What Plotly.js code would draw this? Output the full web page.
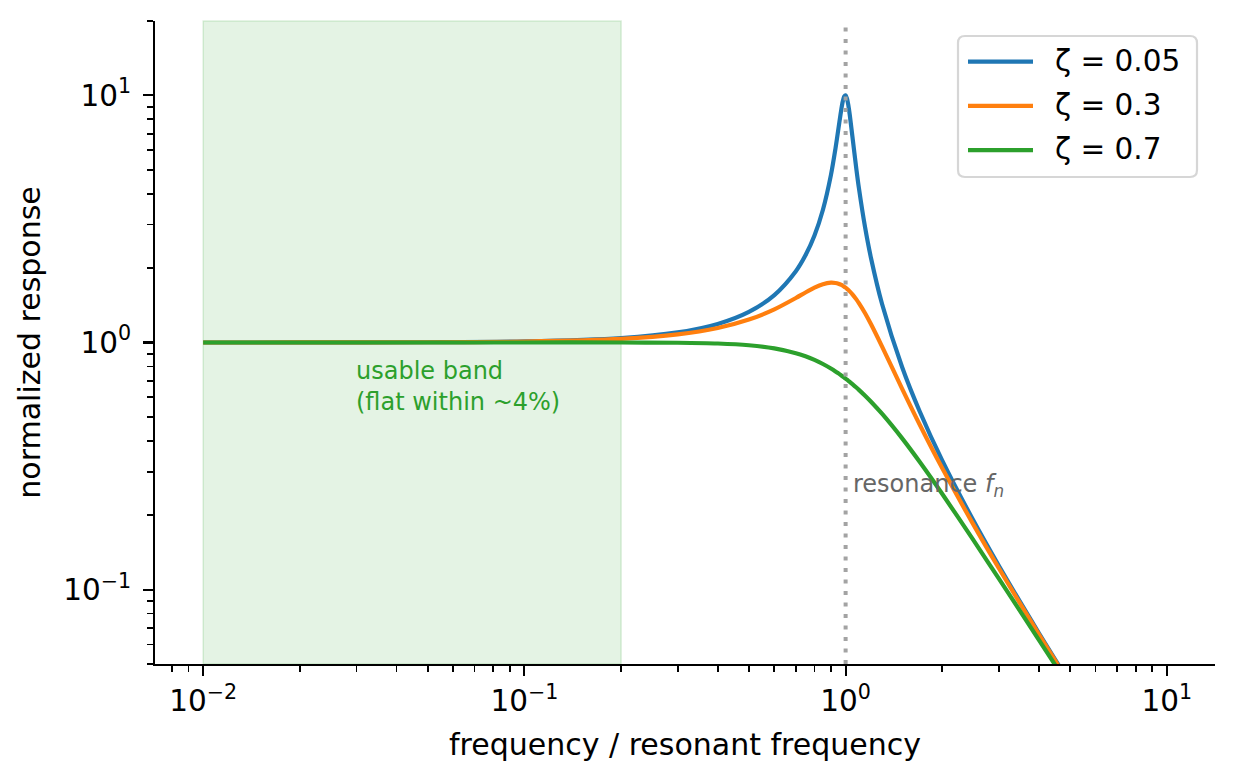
<!DOCTYPE html>
<html>
<head>
<meta charset="utf-8">
<script src="https://cdn.plot.ly/plotly-3.0.1.min.js"></script>
<style>html,body{margin:0;padding:0;background:#fff}</style>
</head>
<body>
<div id="chart" style="width:1234px;height:782px"></div>
<script>
// frequency / resonant frequency
var freqRatio = [0.01, 0.02, 0.05, 0.1, 0.2, 0.3, 0.4, 0.5, 0.6, 0.7,
    0.75, 0.8, 0.85, 0.9, 0.93, 0.95, 0.97, 0.98, 0.99, 1.0,
    1.01, 1.02, 1.03, 1.05, 1.08, 1.1, 1.15, 1.2, 1.3, 1.5,
    1.7, 2, 2.5, 3, 4, 5, 7, 10];

// normalized response
var respZeta005 = [1.000, 1.0004, 1.0025, 1.0100, 1.0414, 1.0983, 1.1891, 1.3304, 1.5557, 1.9426,
    2.2529, 2.7116, 3.4455, 4.7565, 6.097, 7.346, 8.804, 9.461, 9.903, 10.0,
    9.711, 9.115, 8.357, 6.815, 5.041, 4.218, 2.921, 2.193, 1.4242, 0.7943,
    0.5270, 0.3326, 0.1903, 0.1249, 0.0666, 0.0417, 0.0208, 0.0101];
var respZeta03 = [1.000, 1.0003, 1.0021, 1.0083, 1.0336, 1.0780, 1.1447, 1.2380, 1.3618, 1.5136,
    1.5933, 1.6667, 1.7223, 1.7469, 1.7418, 1.7293, 1.7094, 1.6968, 1.6826, 1.6667,
    1.6493, 1.6304, 1.6103, 1.5667, 1.4947, 1.4438, 1.3129, 1.1851, 0.9603, 0.6492,
    0.4656, 0.3095, 0.1832, 0.1220, 0.0658, 0.0413, 0.0208, 0.0101];
var respZeta07 = [1.000, 1.0000, 1.0000, 1.0002, 1.0000, 0.9978, 0.9905, 0.9747, 0.9469, 0.9052,
    0.8791, 0.8500, 0.8184, 0.7848, 0.7640, 0.7499, 0.7357, 0.7286, 0.7214, 0.7143,
    0.7072, 0.7000, 0.6929, 0.6786, 0.6574, 0.6434, 0.6090, 0.5758, 0.5138, 0.4092,
    0.3290, 0.2437, 0.1585, 0.1107, 0.0625, 0.0400, 0.0204, 0.0100];

var seriesNames = ['ζ = 0.05', 'ζ = 0.3', 'ζ = 0.7'];
var seriesValues = [respZeta005, respZeta03, respZeta07];
var seriesColors = ['#1f77b4', '#ff7f0e', '#2ca02c'];

var bandEdges = [0.01, 0.2];
var resonance = 1;

var xTickVals = [0.01, 0.1, 1, 10];
var xTickText = ['10<sup>\u22122</sup>', '10<sup>\u22121</sup>', '10<sup>0</sup>', '10<sup>1</sup>'];
var yTickVals = [0.1, 1, 10];
var yTickText = ['10<sup>\u22121</sup>', '10<sup>0</sup>', '10<sup>1</sup>'];

var font = 'DejaVu Sans, sans-serif';

// plot area in px, used to place the hand drawn legend
var W = 1234, H = 782;
var mar = {l: 155, r: 19, t: 21, b: 118};
var plotW = W - mar.l - mar.r, plotH = H - mar.t - mar.b;
function px(x) { return (x - mar.l) / plotW; }
function py(y) { return (H - mar.b - y) / plotH; }

var data = [];
for (var i = 0; i < seriesNames.length; i++) {
    data.push({
        x: freqRatio,
        y: seriesValues[i],
        name: seriesNames[i],
        type: 'scatter',
        mode: 'lines',
        line: {color: seriesColors[i], width: 4.2, shape: 'spline', smoothing: 0.8},
        hoverinfo: 'none',
        showlegend: false
    });
}

var axisCommon = {
    type: 'log',
    showgrid: false,
    zeroline: false,
    showline: true,
    linecolor: '#000',
    linewidth: 2.2,
    mirror: false,
    ticks: 'outside',
    ticklen: 9.7,
    tickwidth: 2.2,
    tickcolor: '#000',
    tickmode: 'array',
    tickfont: {family: font, size: 29.5, color: '#000'},
    minor: {ticks: 'outside', ticklen: 5.6, tickwidth: 1.7, tickcolor: '#000', dtick: 'D1', showgrid: false},
    fixedrange: true
};

// legend box (rounded) drawn as a path in paper units
var box = {x0: 958, x1: 1197, y0: 36, y1: 177, r: 7};
function roundedBox(b) {
    var rx = b.r / plotW, ry = b.r / plotH;
    var L = px(b.x0), R = px(b.x1), T = py(b.y0), B = py(b.y1);
    return 'M' + (L + rx) + ',' + T +
        ' L' + (R - rx) + ',' + T + ' Q' + R + ',' + T + ' ' + R + ',' + (T - ry) +
        ' L' + R + ',' + (B + ry) + ' Q' + R + ',' + B + ' ' + (R - rx) + ',' + B +
        ' L' + (L + rx) + ',' + B + ' Q' + L + ',' + B + ' ' + L + ',' + (B + ry) +
        ' L' + L + ',' + (T - ry) + ' Q' + L + ',' + T + ' ' + (L + rx) + ',' + T + ' Z';
}

var shapes = [
    {
        type: 'rect', layer: 'below',
        xref: 'x', yref: 'paper',
        x0: bandEdges[0], x1: bandEdges[1], y0: 0, y1: 1,
        fillcolor: 'rgba(44,160,44,0.13)',
        line: {color: 'rgba(44,160,44,0.16)', width: 1.5}
    },
    {
        type: 'line', layer: 'above',
        xref: 'x', yref: 'paper',
        x0: resonance, x1: resonance, y0: 0, y1: 1,
        line: {color: '#a3a3a3', width: 4, dash: '4px,7.5px'}
    },
    {
        type: 'path', layer: 'above',
        xref: 'paper', yref: 'paper',
        path: roundedBox(box),
        fillcolor: 'rgba(255,255,255,0.8)',
        line: {color: '#d6d6d6', width: 2.2}
    }
];

var annotations = [
    {
        xref: 'x', yref: 'y',
        x: Math.log10(0.03), y: Math.log10(0.55),
        text: 'usable band<br>(flat within ~4%)',
        showarrow: false, align: 'left',
        xanchor: 'left', yanchor: 'bottom', yshift: -11, xshift: -2,
        font: {family: font, size: 24, color: '#2ca02c'}
    },
    {
        xref: 'x', yref: 'y',
        x: Math.log10(1.06), y: Math.log10(0.25),
        text: 'resonance <i>f</i><sub><i>n</i></sub>',
        showarrow: false, align: 'left',
        xanchor: 'left', yanchor: 'bottom', yshift: -12, xshift: -3,
        font: {family: font, size: 24, color: '#666666'}
    }
];

// legend rows
var rowY0 = 61.7, rowGap = 44.2;
for (var k = 0; k < seriesNames.length; k++) {
    var yy = py(rowY0 + k * rowGap);
    shapes.push({
        type: 'line', layer: 'above',
        xref: 'paper', yref: 'paper',
        x0: px(968), x1: px(1033), y0: yy, y1: yy,
        line: {color: seriesColors[k], width: 4.2}
    });
    annotations.push({
        xref: 'paper', yref: 'paper',
        x: px(1055), y: yy,
        text: seriesNames[k],
        showarrow: false, align: 'left',
        xanchor: 'left', yanchor: 'middle', xshift: -2, yshift: 1,
        font: {family: font, size: 29.5, color: '#000'}
    });
}

var layout = {
    width: W,
    height: H,
    margin: mar,
    paper_bgcolor: '#fff',
    plot_bgcolor: '#fff',
    font: {family: font, color: '#000'},
    showlegend: false,
    xaxis: Object.assign({}, axisCommon, {
        range: [-2.15, 1.15],
        tickvals: xTickVals,
        ticktext: xTickText,
        title: {text: 'frequency / resonant frequency', font: {family: font, size: 30, color: '#000'}, standoff: 17}
    }),
    yaxis: Object.assign({}, axisCommon, {
        range: [Math.log10(0.05), Math.log10(20)],
        tickvals: yTickVals,
        ticktext: yTickText,
        ticklabelstandoff: 6,
        title: {text: 'normalized response', font: {family: font, size: 30, color: '#000'}, standoff: 14}
    }),
    shapes: shapes,
    annotations: annotations
};

Plotly.newPlot('chart', data, layout, {displayModeBar: false, staticPlot: true});
</script>
</body>
</html>
